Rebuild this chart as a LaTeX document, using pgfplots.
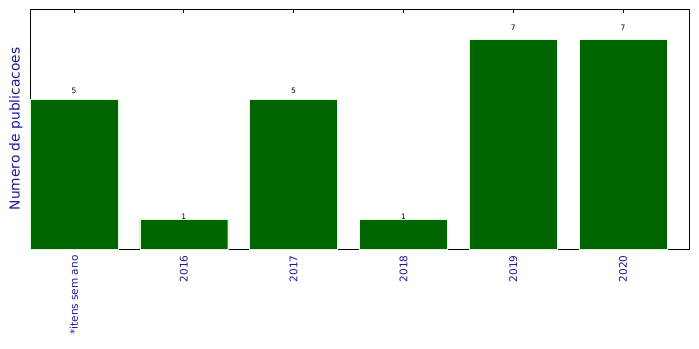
\documentclass[border=0pt]{standalone}
\usepackage{fontspec}
\setmainfont{DejaVu Sans}
\usepackage{pgfplots}
\pgfplotsset{compat=1.18}
\definecolor{bargreen}{HTML}{006400}
\definecolor{lblue}{RGB}{25,25,150}
\begin{document}
\begin{tikzpicture}
\begin{axis}[
  scale only axis,
  width=659bp, height=240bp,
  xmin=-0.4, xmax=5.6, ymin=0, ymax=8,
  xtick=data,
  xticklabels={*itens sem ano,2016,2017,2018,2019,2020},
  x tick label style={rotate=90, anchor=east, font=\fontsize{10.5bp}{12bp}\selectfont, text=lblue},
  xticklabel shift=3bp,
  ytick=\empty,
  tick align=inside,
  xtick pos=both,
  major tick length=4bp,
  tick style={black, line width=0.6bp},
  axis line style={black, line width=0.8bp},
  ylabel={Numero de publicacoes},
  every axis y label/.style={at={(ticklabel cs:0.5)}, rotate=90, anchor=south, yshift=4bp,
    font=\fontsize{13.8bp}{16bp}\selectfont, text=lblue},
  clip=false,
]
\addplot[ybar, bar width=0.8, fill=bargreen, draw=green!15!white, line width=0.4bp] coordinates {
(0,5) (1,1) (2,5) (3,1) (4,7) (5,7)
};
\addplot[draw=none, mark=none, point meta=explicit symbolic,
  nodes near coords, nodes near coords align={above},
  nodes near coords style={font=\fontsize{7.5bp}{8bp}\selectfont, black, anchor=south, inner sep=0.5bp, yshift=-2.5bp}]
coordinates {
(0,5.25) [5] (1,1.05) [1] (2,5.25) [5] (3,1.05) [1] (4,7.35) [7] (5,7.35) [7]
};
\end{axis}
\path (current axis.south west) ++(-30bp,-100bp) rectangle ++(699bp,349bp);
\end{tikzpicture}
\end{document}
